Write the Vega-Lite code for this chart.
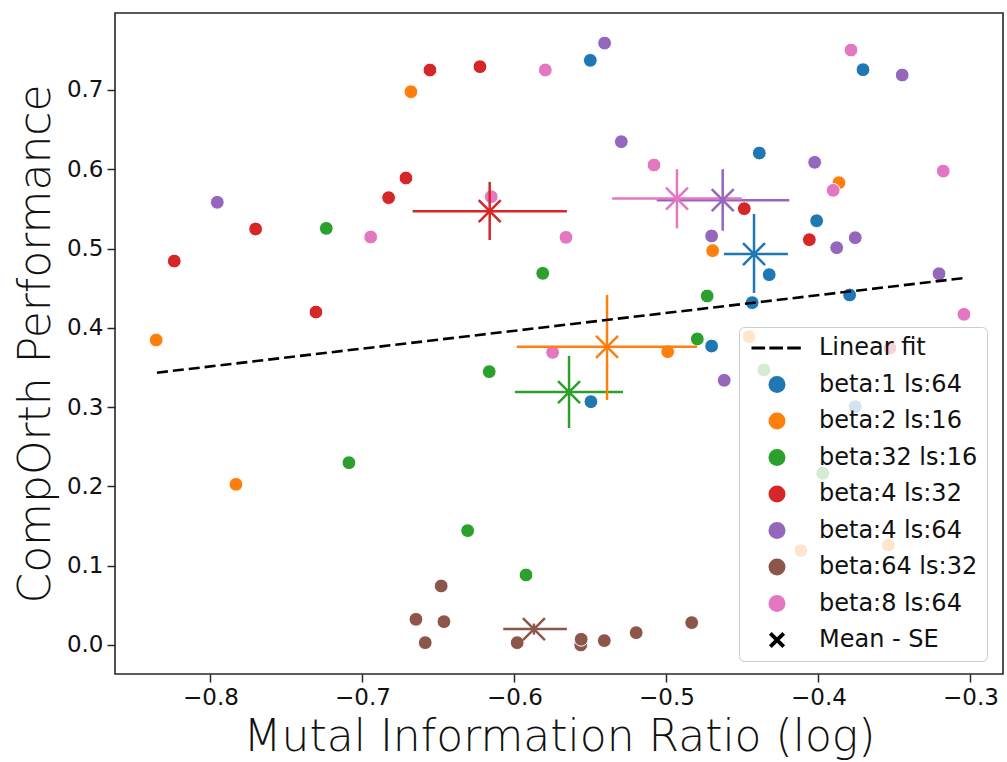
{
  "$schema": "https://vega.github.io/schema/vega-lite/v6.json",
  "width": 888,
  "height": 661,
  "autosize": "none",
  "padding": {"left": 115, "top": 13, "right": 4, "bottom": 88},
  "background": "white",
  "config": {
    "view": {"stroke": "#262626", "strokeWidth": 1.6},
    "axis": {
      "grid": false,
      "domain": false,
      "tickSize": 8,
      "tickWidth": 1.5,
      "tickColor": "#262626",
      "labelFont": "DejaVu Sans",
      "labelFontSize": 23,
      "labelColor": "#111111",
      "labelPadding": 4,
      "titleFont": "DejaVu Sans",
      "titleFontSize": 44,
      "titleFontWeight": 300,
      "titleColor": "#111111"
    }
  },
  "datasets": {
    "points": [
      {"x": -0.5501, "y": 0.7373, "g": "beta:1 ls:64"},
      {"x": -0.3707, "y": 0.7255, "g": "beta:1 ls:64"},
      {"x": -0.4389, "y": 0.6204, "g": "beta:1 ls:64"},
      {"x": -0.4012, "y": 0.535, "g": "beta:1 ls:64"},
      {"x": -0.4324, "y": 0.467, "g": "beta:1 ls:64"},
      {"x": -0.4436, "y": 0.4317, "g": "beta:1 ls:64"},
      {"x": -0.3795, "y": 0.4414, "g": "beta:1 ls:64"},
      {"x": -0.4703, "y": 0.377, "g": "beta:1 ls:64"},
      {"x": -0.5497, "y": 0.3068, "g": "beta:1 ls:64"},
      {"x": -0.3758, "y": 0.3005, "g": "beta:1 ls:64"},
      {"x": -0.6681, "y": 0.6977, "g": "beta:2 ls:16"},
      {"x": -0.3865, "y": 0.583, "g": "beta:2 ls:16"},
      {"x": -0.4696, "y": 0.4973, "g": "beta:2 ls:16"},
      {"x": -0.4992, "y": 0.3699, "g": "beta:2 ls:16"},
      {"x": -0.8357, "y": 0.3846, "g": "beta:2 ls:16"},
      {"x": -0.7832, "y": 0.2026, "g": "beta:2 ls:16"},
      {"x": -0.4457, "y": 0.3888, "g": "beta:2 ls:16"},
      {"x": -0.4115, "y": 0.119, "g": "beta:2 ls:16"},
      {"x": -0.354, "y": 0.126, "g": "beta:2 ls:16"},
      {"x": -0.7238, "y": 0.5254, "g": "beta:32 ls:16"},
      {"x": -0.5814, "y": 0.4687, "g": "beta:32 ls:16"},
      {"x": -0.4732, "y": 0.4401, "g": "beta:32 ls:16"},
      {"x": -0.4797, "y": 0.3859, "g": "beta:32 ls:16"},
      {"x": -0.6166, "y": 0.3447, "g": "beta:32 ls:16"},
      {"x": -0.7089, "y": 0.2299, "g": "beta:32 ls:16"},
      {"x": -0.6308, "y": 0.1442, "g": "beta:32 ls:16"},
      {"x": -0.5924, "y": 0.0883, "g": "beta:32 ls:16"},
      {"x": -0.4359, "y": 0.3468, "g": "beta:32 ls:16"},
      {"x": -0.3972, "y": 0.2165, "g": "beta:32 ls:16"},
      {"x": -0.6556, "y": 0.7251, "g": "beta:4 ls:32"},
      {"x": -0.6227, "y": 0.7293, "g": "beta:4 ls:32"},
      {"x": -0.6714, "y": 0.5889, "g": "beta:4 ls:32"},
      {"x": -0.6828, "y": 0.5641, "g": "beta:4 ls:32"},
      {"x": -0.7703, "y": 0.5246, "g": "beta:4 ls:32"},
      {"x": -0.8238, "y": 0.4842, "g": "beta:4 ls:32"},
      {"x": -0.7306, "y": 0.4199, "g": "beta:4 ls:32"},
      {"x": -0.4488, "y": 0.5502, "g": "beta:4 ls:32"},
      {"x": -0.406, "y": 0.5111, "g": "beta:4 ls:32"},
      {"x": -0.353, "y": 0.3745, "g": "beta:4 ls:32"},
      {"x": -0.5407, "y": 0.7591, "g": "beta:4 ls:64"},
      {"x": -0.3449, "y": 0.7188, "g": "beta:4 ls:64"},
      {"x": -0.5297, "y": 0.6347, "g": "beta:4 ls:64"},
      {"x": -0.4025, "y": 0.6087, "g": "beta:4 ls:64"},
      {"x": -0.7955, "y": 0.5583, "g": "beta:4 ls:64"},
      {"x": -0.4703, "y": 0.5158, "g": "beta:4 ls:64"},
      {"x": -0.388, "y": 0.501, "g": "beta:4 ls:64"},
      {"x": -0.3758, "y": 0.5136, "g": "beta:4 ls:64"},
      {"x": -0.3207, "y": 0.4682, "g": "beta:4 ls:64"},
      {"x": -0.462, "y": 0.3338, "g": "beta:4 ls:64"},
      {"x": -0.6482, "y": 0.0744, "g": "beta:64 ls:32"},
      {"x": -0.6648, "y": 0.0324, "g": "beta:64 ls:32"},
      {"x": -0.6464, "y": 0.0294, "g": "beta:64 ls:32"},
      {"x": -0.6587, "y": 0.0029, "g": "beta:64 ls:32"},
      {"x": -0.5982, "y": 0.0029, "g": "beta:64 ls:32"},
      {"x": -0.5564, "y": 0.0, "g": "beta:64 ls:32"},
      {"x": -0.5561, "y": 0.0072, "g": "beta:64 ls:32"},
      {"x": -0.5409, "y": 0.0055, "g": "beta:64 ls:32"},
      {"x": -0.5199, "y": 0.0155, "g": "beta:64 ls:32"},
      {"x": -0.4834, "y": 0.0282, "g": "beta:64 ls:32"},
      {"x": -0.5797, "y": 0.7251, "g": "beta:8 ls:64"},
      {"x": -0.3786, "y": 0.7503, "g": "beta:8 ls:64"},
      {"x": -0.5082, "y": 0.6053, "g": "beta:8 ls:64"},
      {"x": -0.3903, "y": 0.5734, "g": "beta:8 ls:64"},
      {"x": -0.3179, "y": 0.5977, "g": "beta:8 ls:64"},
      {"x": -0.6153, "y": 0.5653, "g": "beta:8 ls:64"},
      {"x": -0.6946, "y": 0.5145, "g": "beta:8 ls:64"},
      {"x": -0.5661, "y": 0.5141, "g": "beta:8 ls:64"},
      {"x": -0.5749, "y": 0.369, "g": "beta:8 ls:64"},
      {"x": -0.3043, "y": 0.417, "g": "beta:8 ls:64"}
    ],
    "means": [
      {"g": "beta:1 ls:64", "x": -0.4424, "y": 0.493, "xlo": -0.4622, "xhi": -0.4201, "ylo": 0.444, "yhi": 0.5435},
      {"g": "beta:2 ls:16", "x": -0.5391, "y": 0.376, "xlo": -0.5984, "xhi": -0.4799, "ylo": 0.309, "yhi": 0.4414},
      {"g": "beta:32 ls:16", "x": -0.5641, "y": 0.319, "xlo": -0.5997, "xhi": -0.5286, "ylo": 0.2736, "yhi": 0.3644},
      {"g": "beta:4 ls:32", "x": -0.6163, "y": 0.547, "xlo": -0.667, "xhi": -0.5655, "ylo": 0.5107, "yhi": 0.584},
      {"g": "beta:4 ls:64", "x": -0.463, "y": 0.561, "xlo": -0.5064, "xhi": -0.4192, "ylo": 0.5224, "yhi": 0.6},
      {"g": "beta:64 ls:32", "x": -0.5872, "y": 0.02, "xlo": -0.6074, "xhi": -0.5655, "ylo": 0.013, "yhi": 0.027},
      {"g": "beta:8 ls:64", "x": -0.4931, "y": 0.563, "xlo": -0.5357, "xhi": -0.4505, "ylo": 0.5255, "yhi": 0.6}
    ],
    "fit": [
      {"x": -0.8352, "y": 0.3434},
      {"x": -0.3043, "y": 0.4627}
    ]
  },
  "layer": [
    {
      "data": {"name": "points"},
      "mark": {"type": "point", "filled": true, "size": 190, "stroke": "white", "strokeWidth": 1, "opacity": 1},
      "encoding": {
        "x": {"field": "x", "type": "quantitative",
          "scale": {"domain": [-0.8628, -0.2786], "nice": false, "zero": false},
          "axis": {"values": [-0.8, -0.7, -0.6, -0.5, -0.4, -0.3], "format": ".1f", "title": "Mutal Information Ratio (log)", "titlePadding": 6}},
        "y": {"field": "y", "type": "quantitative",
          "scale": {"domain": [-0.0366, 0.797], "nice": false, "zero": false},
          "axis": {"values": [0, 0.1, 0.2, 0.3, 0.4, 0.5, 0.6, 0.7], "format": ".1f", "title": "CompOrth Performance", "titlePadding": 8}},
        "color": {"field": "g", "type": "nominal",
          "scale": {
            "domain": ["Linear fit", "beta:1 ls:64", "beta:2 ls:16", "beta:32 ls:16", "beta:4 ls:32", "beta:4 ls:64", "beta:64 ls:32", "beta:8 ls:64", "Mean - SE"],
            "range": ["#000000", "#1f77b4", "#ff7f0e", "#2ca02c", "#d62728", "#9467bd", "#8c564b", "#e377c2", "#000000"]
          },
          "legend": {
            "title": null,
            "orient": "none",
            "legendX": 624,
            "legendY": 314,
            "fillColor": "rgba(255,255,255,0.8)",
            "strokeColor": "#cccccc",
            "cornerRadius": 5,
            "padding": 9,
            "rowPadding": 12.5,
            "symbolSize": 289,
            "symbolStrokeWidth": 0,
            "symbolOpacity": 1,
            "symbolOffset": 17,
            "labelOffset": 30,
            "labelFont": "DejaVu Sans",
            "labelFontSize": 24,
            "labelColor": "#111111",
            "labelLimit": 400
          }
        },
        "shape": {"field": "g", "type": "nominal",
          "scale": {
            "domain": ["Linear fit", "beta:1 ls:64", "beta:2 ls:16", "beta:32 ls:16", "beta:4 ls:32", "beta:4 ls:64", "beta:64 ls:32", "beta:8 ls:64", "Mean - SE"],
            "range": [
              "M-3,-0.18L-1.4,-0.18L-1.4,0.18L-3,0.18Z M-0.9,-0.18L0.7,-0.18L0.7,0.18L-0.9,0.18Z M1.2,-0.18L2.8,-0.18L2.8,0.18L1.2,0.18Z",
              "circle", "circle", "circle", "circle", "circle", "circle", "circle",
              "M-0.95,-0.63L-0.63,-0.95L0,-0.32L0.63,-0.95L0.95,-0.63L0.32,0L0.95,0.63L0.63,0.95L0,0.32L-0.63,0.95L-0.95,0.63L-0.32,0Z"
            ]
          }
        }
      }
    },
    {
      "data": {"name": "means"},
      "mark": {"type": "rule", "strokeWidth": 2.5},
      "encoding": {
        "x": {"field": "xlo", "type": "quantitative"},
        "x2": {"field": "xhi"},
        "y": {"field": "y", "type": "quantitative"},
        "color": {"field": "g", "type": "nominal"}
      }
    },
    {
      "data": {"name": "means"},
      "mark": {"type": "rule", "strokeWidth": 2.5},
      "encoding": {
        "x": {"field": "x", "type": "quantitative"},
        "y": {"field": "ylo", "type": "quantitative"},
        "y2": {"field": "yhi"},
        "color": {"field": "g", "type": "nominal"}
      }
    },
    {
      "data": {"name": "means"},
      "mark": {"type": "point", "shape": "M-1,-1L1,1M-1,1L1,-1", "size": 484, "filled": false, "strokeWidth": 2.5, "opacity": 1},
      "encoding": {
        "x": {"field": "x", "type": "quantitative"},
        "y": {"field": "y", "type": "quantitative"},
        "color": {"field": "g", "type": "nominal"}
      }
    },
    {
      "data": {"name": "fit"},
      "mark": {"type": "line", "color": "black", "strokeDash": [11, 5], "strokeWidth": 2.6},
      "encoding": {
        "x": {"field": "x", "type": "quantitative"},
        "y": {"field": "y", "type": "quantitative"}
      }
    }
  ]
}
